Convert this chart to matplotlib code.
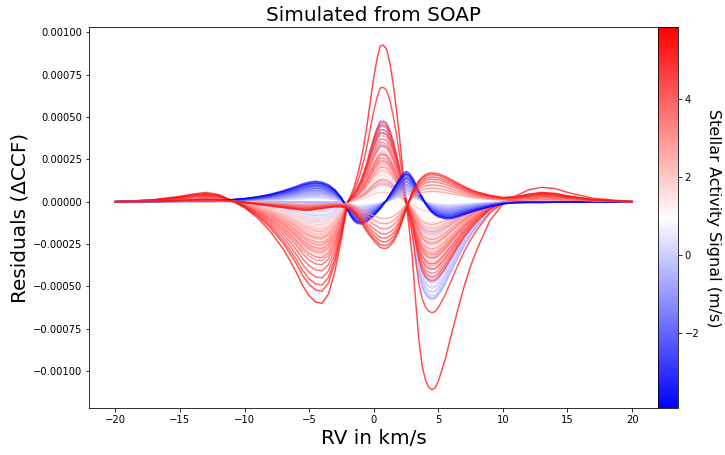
import numpy as np
import matplotlib.pyplot as plt
from matplotlib import cm, colors

rv = np.array([-20, -17, -15, -14, -13, -12, -11, -10, -9, -8,
               -7, -6.5, -6, -5.5, -5, -4.5, -4, -3.5, -3, -2.5,
               -2, -1.75, -1.5, -1.25, -1, -0.75, -0.5, -0.25, 0, 0.25,
               0.5, 0.75, 1, 1.25, 1.5, 1.75, 2, 2.25, 2.5, 2.75,
               3, 3.25, 3.5, 3.75, 4, 4.25, 4.5, 4.75, 5, 5.5,
               6, 6.5, 7, 7.5, 8, 9, 10, 11, 12, 13,
               14, 15, 17, 20])

# spot-like residuals of the strongest curve, units of 1e-4, split in 3 lobes
spot_left_shape = np.array([0, 0.12, 0.32, 0.45, 0.55, 0.42, 0.08, -0.35, -0.95, -1.75,
                            -2.8, -3.45, -4.15, -4.95, -5.55, -5.92, -6.0, -5.45, -4.1, -2.2,
                            0, 0, 0, 0, 0, 0, 0, 0, 0, 0,
                            0, 0, 0, 0, 0, 0, 0, 0, 0, 0,
                            0, 0, 0, 0, 0, 0, 0, 0, 0, 0,
                            0, 0, 0, 0, 0, 0, 0, 0, 0, 0,
                            0, 0, 0, 0])
spot_peak_shape = np.array([0, 0, 0, 0, 0, 0, 0, 0, 0, 0,
                            0, 0, 0, 0, 0, 0, 0, 0, 0, 0,
                            0, 0.4, 0.9, 1.6, 2.4, 3.4, 4.6, 6.0, 7.3, 8.4,
                            9.2, 9.25, 9.0, 8.2, 7.0, 5.5, 3.8, 1.9, 0, 0,
                            0, 0, 0, 0, 0, 0, 0, 0, 0, 0,
                            0, 0, 0, 0, 0, 0, 0, 0, 0, 0,
                            0, 0, 0, 0])
spot_right_shape = np.array([0, 0, 0, 0, 0, 0, 0, 0, 0, 0,
                             0, 0, 0, 0, 0, 0, 0, 0, 0, 0,
                             0, 0, 0, 0, 0, 0, 0, 0, 0, 0,
                             0, 0, 0, 0, 0, 0, 0, 0, 0, -1.6,
                             -3.4, -5.9, -8.2, -9.7, -10.5, -10.95, -11.1, -11.0, -10.6, -9.4,
                             -7.9, -6.4, -5.0, -3.8, -2.8, -1.1, -0.15, 0.35, 0.7, 0.85,
                             0.78, 0.55, 0.2, 0])
# blue (negative activity) residual shape
blue_shape = np.array([0, 0.02, 0.04, 0.05, 0.06, 0.08, 0.12, 0.18, 0.28, 0.42,
                       0.62, 0.74, 0.86, 1.0, 1.1, 1.15, 1.1, 0.95, 0.68, 0.22,
                       -0.5, -0.85, -1.1, -1.22, -1.25, -1.2, -1.1, -0.95, -0.8, -0.6,
                       -0.4, -0.15, 0.1, 0.4, 0.7, 1.0, 1.3, 1.55, 1.7, 1.6,
                       1.35, 1.0, 0.6, 0.25, -0.1, -0.38, -0.6, -0.75, -0.85, -0.95,
                       -0.95, -0.85, -0.72, -0.6, -0.48, -0.28, -0.12, -0.05, -0.04, -0.04,
                       -0.03, -0.03, -0.01, 0])
# red, inverted residual shape
red_inv_shape = np.array([0, 0.03, 0.08, 0.12, 0.15, 0.12, 0.05, -0.05, -0.15, -0.25,
                          -0.35, -0.4, -0.45, -0.5, -0.5, -0.45, -0.4, -0.35, -0.3, -0.3,
                          -0.4, -0.5, -0.7, -0.95, -1.2, -1.5, -1.8, -2.05, -2.3, -2.5,
                          -2.7, -2.75, -2.75, -2.6, -2.4, -2.05, -1.6, -1.05, -0.5, 0.05,
                          0.6, 0.95, 1.25, 1.45, 1.6, 1.68, 1.7, 1.68, 1.65, 1.5,
                          1.3, 1.1, 0.9, 0.72, 0.58, 0.38, 0.25, 0.3, 0.45, 0.55,
                          0.5, 0.35, 0.12, 0])

# per-curve weights of each lobe and activity signal (m/s)
spot_left_amp = [1.00, 0.88, 0.82, 0.75, 0.68, 0.62, 0.58, 0.55, 0.52, 0.50,
                 0.48, 0.46, 0.45, 0.43, 0.42, 0.40, 0.39, 0.37, 0.36, 0.35,
                 0.33, 0.32, 0.31, 0.30, 0.29, 0.28, 0.27, 0.26, 0.25, 0.24,
                 0.23, 0.22, 0.21, 0.20, 0.19, 0.18, 0.17, 0.16, 0.15, 0.14,
                 0.13, 0.12, 0.11, 0.10, 0.09, 0.08, 0.07, 0.06, 0.05, 0.04,
                 0.03, 0.02, 0.01, 0.00]
spot_peak_amp = [1.00, 0.73, 0.51, 0.49, 0.46, 0.44, 0.40, 0.36, 0.42, 0.30,
                 0.38, 0.26, 0.33, 0.22, 0.35, 0.28, 0.18, 0.31, 0.24, 0.14,
                 0.27, 0.20, 0.36, 0.11, 0.25, 0.17, 0.30, 0.08, 0.22, 0.33,
                 0.13, 0.28, 0.19, 0.38, 0.06, 0.24, 0.42, 0.15, 0.30, 0.46,
                 0.10, 0.35, 0.21, 0.50, 0.27, 0.40, 0.16, 0.52, 0.32, 0.44,
                 0.23, 0.37, 0.48, 0.12]
spot_right_amp = [1.00, 0.59, 0.42, 0.36, 0.40, 0.33, 0.38, 0.30, 0.35, 0.28,
                  0.34, 0.22, 0.31, 0.25, 0.29, 0.20, 0.24, 0.27, 0.18, 0.16,
                  0.32, 0.14, 0.37, 0.12, 0.26, 0.21, 0.23, 0.09, 0.30, 0.28,
                  0.15, 0.33, 0.19, 0.41, 0.05, 0.27, 0.45, 0.13, 0.36, 0.50,
                  0.11, 0.39, 0.25, 0.51, 0.31, 0.46, 0.20, 0.48, 0.38, 0.43,
                  0.29, 0.41, 0.52, 0.17]
spot_act = [5.80, 5.40, 5.05, 4.85, 4.60, 4.45, 3.60, 4.20, 2.40, 3.90,
            3.20, 4.00, 1.60, 3.40, 2.90, 3.70, 1.20, 3.00, 2.60, 3.50,
            2.10, 2.80, 0.90, 3.10, 2.30, 1.90, 2.70, 1.40, 2.00, 1.10,
            2.50, 0.60, 1.80, 0.30, 2.20, 1.30, 0.00, 1.70, 0.50, -0.30,
            1.50, 0.20, 1.00, -0.50, 0.70, -0.15, 0.80, -0.70, 0.10, -0.90,
            0.40, -0.45, -1.10, -0.60]

blue_amp = [1.05, 0.98, 0.96, 0.91, 0.84, 0.82, 0.77, 0.70, 0.68, 0.61,
            0.57, 0.52, 0.46, 0.41, 0.37, 0.30, 0.26, 0.18]
blue_act = [-3.90, -3.55, -3.25, -2.95, -2.70, -2.45, -2.25, -2.00, -1.85, -1.60,
            -1.45, -1.20, -1.05, -0.80, -0.65, -0.40, -0.20, 0.10]

red_inv_amp = [1.00, 0.94, 0.86, 0.78, 0.69, 0.58, 0.47, 0.36]
red_inv_act = [5.50, 5.20, 4.95, 4.70, 4.35, 3.95, 3.55, 3.10]

fig = plt.figure(figsize=(725 / 72, 455 / 72), dpi=72)
ax = fig.add_axes([0.1234, 0.1026, 0.7841, 0.8374])
cax = fig.add_axes([0.9076, 0.1026, 0.0269, 0.8374])

cmap = plt.get_cmap('bwr')
norm = colors.Normalize(vmin=-3.95, vmax=5.85)

# weakest first so the strongest spot residuals sit on top
spots = list(zip(spot_left_amp, spot_peak_amp, spot_right_amp, spot_act))
for aL, aP, aR, act in reversed(spots):
    y = (aL * spot_left_shape + aP * spot_peak_shape + aR * spot_right_shape) * 1e-4
    ax.plot(rv, y, color=cmap(norm(act)), alpha=0.7, lw=1.5)

for a, act in reversed(list(zip(blue_amp, blue_act))):
    ax.plot(rv, a * blue_shape * 1e-4, color=cmap(norm(act)), alpha=0.7, lw=1.5)

for a, act in reversed(list(zip(red_inv_amp, red_inv_act))):
    ax.plot(rv, a * red_inv_shape * 1e-4, color=cmap(norm(act)), alpha=0.7, lw=1.5)

ax.set_xlim(-22, 22)
ax.set_ylim(-0.00122, 0.00103)
ax.set_title('Simulated from SOAP', fontsize=20)
ax.set_xlabel('RV in km/s', fontsize=20)
ax.set_ylabel('Residuals (ΔCCF)', fontsize=20)

sm = cm.ScalarMappable(norm=norm, cmap=cmap)
cbar = fig.colorbar(sm, cax=cax)
cbar.set_label('Stellar Activity Signal (m/s)', rotation=270, fontsize=16, labelpad=22)

fig.savefig('out.png', dpi=72)
